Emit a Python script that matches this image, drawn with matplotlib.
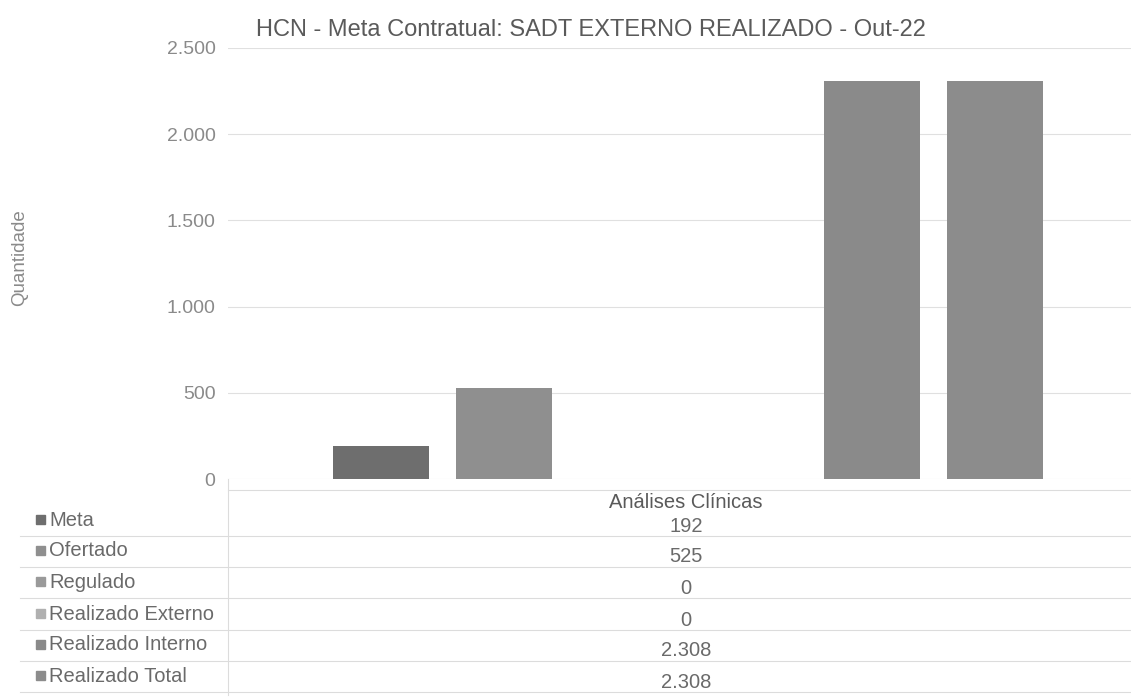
import matplotlib.pyplot as plt
from matplotlib.lines import Line2D
from matplotlib.patches import Rectangle

# Dados do gráfico
categoria = "Análises Clínicas"
series = ["Meta", "Ofertado", "Regulado", "Realizado Externo",
          "Realizado Interno", "Realizado Total"]
valores = [192, 525, 0, 0, 2308, 2308]
cores = ["#6e6e6e", "#8f8f8f", "#9a9a9a", "#b0b0b0", "#8a8a8a", "#8c8c8c"]
yticks = [0, 500, 1000, 1500, 2000, 2500]


def fmt_br(v):
    return f"{v:,.0f}".replace(",", ".")


W, H = 1131, 699
plt.rcParams['font.family'] = ['Liberation Sans', 'DejaVu Sans']

fig = plt.figure(figsize=(W / 100, H / 100), dpi=100)
fig.patch.set_facecolor("white")


def fx(px):
    return px / W


def fy(py):
    return 1 - py / H


ax = fig.add_axes([fx(228), fy(479), fx(1131) - fx(228), fy(48) - fy(479)])
x = list(range(len(series)))
ax.bar(x, valores, width=0.78, color=cores, zorder=3)
ax.set_xlim(-1.246, 6.107)
ax.set_ylim(0, 2500)
ax.set_yticks(yticks)
ax.set_yticklabels([fmt_br(v) for v in yticks], fontsize=14, color="#8a8a8a")
ax.tick_params(axis="y", length=0, pad=9)
ax.set_xticks([])
for s in ax.spines.values():
    s.set_visible(False)
ax.grid(axis="y", color="#e0e0e0", linewidth=0.8, zorder=0)

fig.text(fx(591), fy(30), "HCN - Meta Contratual: SADT EXTERNO REALIZADO - Out-22",
         ha="center", va="center", fontsize=17, color="#5a5a5a")
fig.text(fx(20), fy(258), "Quantidade", rotation=90, ha="center", va="center",
         fontsize=13.5, color="#8a8a8a")

# Tabela de dados
linha = "#dcdcdc"
fig.add_artist(Line2D([fx(228), fx(228)], [fy(479), fy(695)], color=linha, lw=0.8))
row_y = [520, 551, 582, 614, 645, 676]
bordas = [490, 536, 567, 598, 630, 661, 692]
for b in bordas:
    x0 = 20 if b != 490 else 228
    fig.add_artist(Line2D([fx(x0), fx(1131)], [fy(b), fy(b)], color=linha, lw=0.8))
fig.text(fx(686), fy(502), categoria, ha="center", va="center",
         fontsize=14.5, color="#5a5a5a")
for nome, v, c, yy in zip(series, valores, cores, row_y):
    fig.add_artist(Rectangle((fx(36), fy(yy + 4)), fx(9), fy(0) - fy(9),
                             color=c, transform=fig.transFigure))
    fig.text(fx(49), fy(yy), nome, ha="left", va="center",
             fontsize=14.5, color="#6a6a6a")
    fig.text(fx(686), fy(yy + 6), fmt_br(v), ha="center", va="center",
             fontsize=14.5, color="#6a6a6a")

fig.savefig("out.png", dpi=100)
